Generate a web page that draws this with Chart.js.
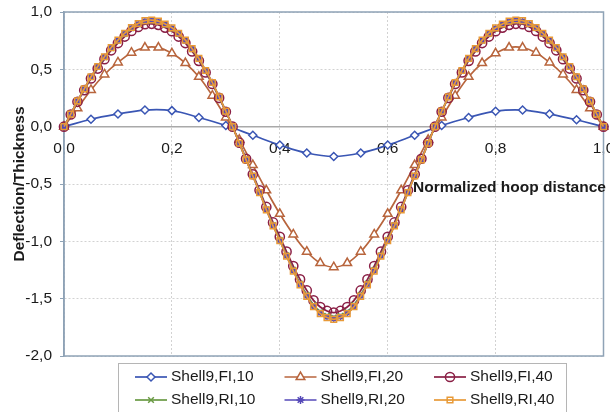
<!DOCTYPE html>
<html>
<head>
<meta charset="utf-8">
<title>Deflection/Thickness</title>
<script src="https://cdn.jsdelivr.net/npm/chart.js@4/dist/chart.umd.min.js"></script>
<style>
  html, body { margin: 0; padding: 0; background: #fff; }
  #wrap { width: 610px; height: 412px; }
</style>
</head>
<body>
<div id="wrap"><canvas id="chart" width="610" height="412"></canvas></div>
<script>
// x positions of the three sampling densities
const xFine = [0, 0.0125, 0.025, 0.0375, 0.05, 0.0625, 0.075, 0.0875, 0.1, 0.1125, 0.125, 0.1375, 0.15, 0.1625, 0.175, 0.1875, 0.2,
  0.2125, 0.225, 0.2375, 0.25, 0.2625, 0.275, 0.2875, 0.3, 0.3125, 0.325, 0.3375, 0.35, 0.3625, 0.375, 0.3875, 0.4,
  0.4125, 0.425, 0.4375, 0.45, 0.4625, 0.475, 0.4875, 0.5, 0.5125, 0.525, 0.5375, 0.55, 0.5625, 0.575, 0.5875, 0.6,
  0.6125, 0.625, 0.6375, 0.65, 0.6625, 0.675, 0.6875, 0.7, 0.7125, 0.725, 0.7375, 0.75, 0.7625, 0.775, 0.7875, 0.8,
  0.8125, 0.825, 0.8375, 0.85, 0.8625, 0.875, 0.8875, 0.9, 0.9125, 0.925, 0.9375, 0.95, 0.9625, 0.975, 0.9875, 1];
const xMid = [0, 0.025, 0.05, 0.075, 0.1, 0.125, 0.15, 0.175, 0.2, 0.225, 0.25, 0.275, 0.3, 0.325, 0.35, 0.375, 0.4,
  0.425, 0.45, 0.475, 0.5, 0.525, 0.55, 0.575, 0.6, 0.625, 0.65, 0.675, 0.7, 0.725, 0.75, 0.775, 0.8,
  0.825, 0.85, 0.875, 0.9, 0.925, 0.95, 0.975, 1];
const xCoarse = [0, 0.05, 0.1, 0.15, 0.2, 0.25, 0.3, 0.35, 0.4, 0.45, 0.5, 0.55, 0.6, 0.65, 0.7, 0.75, 0.8, 0.85, 0.9, 0.95, 1];

const seriesNames = ['Shell9,FI,10', 'Shell9,FI,20', 'Shell9,FI,40', 'Shell9,RI,10', 'Shell9,RI,20', 'Shell9,RI,40'];

const fi10 = [0, 0.065, 0.11, 0.145, 0.14, 0.08, 0.01, -0.075, -0.16, -0.23, -0.26, -0.23, -0.16, -0.075, 0.01, 0.08,
  0.135, 0.145, 0.11, 0.06, 0];

const fi20 = [0, 0.16, 0.32, 0.455, 0.56, 0.645, 0.69, 0.69, 0.64, 0.555, 0.435, 0.27, 0.08, -0.115, -0.335, -0.555,
  -0.76, -0.94, -1.09, -1.19, -1.225, -1.19, -1.09, -0.94, -0.76, -0.555, -0.335, -0.115, 0.08, 0.27, 0.435, 0.555,
  0.64, 0.69, 0.69, 0.645, 0.56, 0.455, 0.32, 0.16, 0];

const fi40 = [0, 0.106, 0.217, 0.318, 0.42, 0.507, 0.589, 0.666, 0.729, 0.786, 0.835, 0.869, 0.893, 0.897, 0.888, 0.864,
  0.832, 0.786, 0.729, 0.656, 0.574, 0.473, 0.372, 0.251, 0.13, 0, -0.14, -0.28, -0.415, -0.555, -0.7, -0.835, -0.96,
  -1.09, -1.216, -1.332, -1.428, -1.515, -1.573, -1.607, -1.621,
  -1.607, -1.573, -1.515, -1.428, -1.332, -1.216, -1.09, -0.96, -0.835, -0.7, -0.555, -0.415, -0.28, -0.14, 0, 0.13,
  0.251, 0.372, 0.473, 0.574, 0.656, 0.729, 0.786, 0.832, 0.864, 0.888, 0.897, 0.893, 0.869, 0.835, 0.786, 0.729,
  0.666, 0.589, 0.507, 0.42, 0.318, 0.217, 0.106, 0];

const ri10 = [0, 0.109, 0.223, 0.327, 0.431, 0.52, 0.604, 0.683, 0.747, 0.807, 0.856, 0.891, 0.916, 0.921, 0.911, 0.886,
  0.853, 0.807, 0.747, 0.673, 0.589, 0.485, 0.381, 0.257, 0.134, 0, -0.144, -0.287, -0.426, -0.569, -0.718, -0.856,
  -0.985, -1.119, -1.247, -1.366, -1.465, -1.554, -1.614, -1.648, -1.663,
  -1.648, -1.614, -1.554, -1.465, -1.366, -1.247, -1.119, -0.985, -0.856, -0.718, -0.569, -0.426, -0.287, -0.144, 0,
  0.134, 0.257, 0.381, 0.485, 0.589, 0.673, 0.747, 0.807, 0.853, 0.886, 0.911, 0.921, 0.916, 0.891, 0.856, 0.807,
  0.747, 0.683, 0.604, 0.52, 0.431, 0.327, 0.223, 0.109, 0];

const ri20 = [0, 0.11, 0.224, 0.329, 0.434, 0.524, 0.608, 0.688, 0.753, 0.813, 0.862, 0.897, 0.922, 0.927, 0.917, 0.892,
  0.859, 0.812, 0.752, 0.678, 0.593, 0.488, 0.384, 0.259, 0.135, 0, -0.145, -0.289, -0.429, -0.573, -0.723, -0.862,
  -0.992, -1.127, -1.256, -1.376, -1.476, -1.565, -1.625, -1.66, -1.675,
  -1.66, -1.625, -1.565, -1.476, -1.376, -1.256, -1.127, -0.992, -0.862, -0.723, -0.573, -0.429, -0.289, -0.145, 0,
  0.135, 0.259, 0.384, 0.488, 0.593, 0.678, 0.752, 0.812, 0.859, 0.892, 0.917, 0.927, 0.922, 0.897, 0.862, 0.813,
  0.753, 0.688, 0.608, 0.524, 0.434, 0.329, 0.224, 0.11, 0];

const ri40 = [0, 0.11, 0.225, 0.33, 0.435, 0.525, 0.61, 0.69, 0.755, 0.815, 0.865, 0.9, 0.925, 0.93, 0.92, 0.895,
  0.862, 0.815, 0.755, 0.68, 0.595, 0.49, 0.385, 0.26, 0.135, 0, -0.145, -0.29, -0.43, -0.575, -0.725, -0.865,
  -0.995, -1.13, -1.26, -1.38, -1.48, -1.57, -1.63, -1.665, -1.68,
  -1.665, -1.63, -1.57, -1.48, -1.38, -1.26, -1.13, -0.995, -0.865, -0.725, -0.575, -0.43, -0.29, -0.145, 0,
  0.135, 0.26, 0.385, 0.49, 0.595, 0.68, 0.755, 0.815, 0.862, 0.895, 0.92, 0.93, 0.925, 0.9, 0.865, 0.815,
  0.755, 0.69, 0.61, 0.525, 0.435, 0.33, 0.225, 0.11, 0];

const yTickStep = 0.5;
const xTickStep = 0.2;

const FONT = '"Liberation Sans", Arial, sans-serif';
const TEXT = '#1a1a1a';
const FRAME = '#8fa3b6';

const pairs = (xs, ys) => xs.map((x, i) => ({ x: x, y: ys[i] }));
const comma = (v) => Number(v).toFixed(1).replace('.', ',');

function series(label, xs, ys, color, style, radius, fill, order) {
    return {
        label: label,
        data: pairs(xs, ys),
        borderColor: color,
        borderWidth: 1.7,
        pointStyle: style,
        pointRadius: radius,
        pointBorderColor: color,
        pointBorderWidth: 1.5,
        pointBackgroundColor: fill,
        tension: 0.4,
        order: order,
        clip: 8
    };
}

// frame round the plot, axis caption and the boxed legend
const decorations = {
    id: 'decorations',
    beforeDatasetsDraw(chart) {
        const { ctx, chartArea: a } = chart;
        ctx.save();
        ctx.strokeStyle = FRAME;
        ctx.lineWidth = 1.5;
        ctx.strokeRect(a.left, a.top, a.right - a.left, a.bottom - a.top);
        ctx.restore();
    },
    afterDraw(chart) {
        const ctx = chart.ctx;
        ctx.save();
        ctx.fillStyle = TEXT;
        ctx.textAlign = 'left';
        ctx.textBaseline = 'middle';
        ctx.font = 'bold 15.5px ' + FONT;
        ctx.fillText('Normalized hoop distance', 413, 188);

        ctx.strokeStyle = '#b5b5b5';
        ctx.lineWidth = 1;
        ctx.strokeRect(118.5, 363.5, 448, 60);

        ctx.font = '15.5px ' + FONT;
        chart.data.datasets.forEach((ds, i) => {
            const x0 = 135 + (i % 3) * 149.5;
            const y = 377 + Math.floor(i / 3) * 23;
            ctx.strokeStyle = ds.borderColor;
            ctx.lineWidth = ds.borderWidth;
            ctx.beginPath();
            ctx.moveTo(x0, y);
            ctx.lineTo(x0 + 32, y);
            ctx.stroke();
            if (Chart.helpers && Chart.helpers.drawPoint) {
                ctx.fillStyle = ds.pointBackgroundColor;
                ctx.lineWidth = ds.pointBorderWidth;
                Chart.helpers.drawPoint(ctx, {
                    pointStyle: ds.pointStyle,
                    radius: Math.max(ds.pointRadius, 4),
                    rotation: 0,
                    borderWidth: ds.pointBorderWidth
                }, x0 + 16, y);
            }
            ctx.fillStyle = TEXT;
            ctx.fillText(ds.label, x0 + 36, y);
        });
        ctx.restore();
    }
};

new Chart(document.getElementById('chart'), {
    type: 'line',
    data: {
        datasets: [
            series(seriesNames[0], xCoarse, fi10, '#3a56b4', 'rectRot', 4, '#ffffff', 6),
            series(seriesNames[1], xMid, fi20, '#b8653d', 'triangle', 5, '#ffffff', 5),
            series(seriesNames[2], xFine, fi40, '#8a1f45', 'circle', 4.6, 'rgba(255,255,255,0)', 4),
            series(seriesNames[3], xFine, ri10, '#6a9a44', 'crossRot', 3.6, 'rgba(255,255,255,0)', 3),
            series(seriesNames[4], xFine, ri20, '#5548b8', 'star', 3.2, 'rgba(255,255,255,0)', 2),
            series(seriesNames[5], xFine, ri40, '#e89a38', 'rect', 4, 'rgba(255,255,255,0)', 1)
        ]
    },
    options: {
        responsive: false,
        animation: false,
        devicePixelRatio: 1,
        layout: { padding: { top: 12, right: 5, bottom: 56, left: 0 } },
        plugins: {
            legend: { display: false },
            tooltip: { enabled: false }
        },
        scales: {
            x: {
                type: 'linear',
                position: { y: 0 },
                min: 0,
                max: 1,
                ticks: {
                    stepSize: xTickStep,
                    padding: 13,
                    color: TEXT,
                    font: { family: FONT, size: 15.5 },
                    callback: comma
                },
                grid: { color: '#d2d2d2', lineWidth: 1, drawTicks: false },
                border: { color: '#a9a9a9', width: 1.5, dash: [2, 2] },
                afterFit(scale) {
                    scale.paddingLeft = 0;
                    scale.paddingRight = 0;
                }
            },
            y: {
                type: 'linear',
                min: -2,
                max: 1,
                ticks: {
                    stepSize: yTickStep,
                    padding: 8,
                    color: TEXT,
                    font: { family: FONT, size: 15.5 },
                    callback: comma
                },
                grid: { color: '#d2d2d2', lineWidth: 1, tickLength: 4, tickColor: FRAME, tickBorderDash: [] },
                border: { color: FRAME, width: 1.5, dash: [2, 2] },
                title: {
                    display: true,
                    text: 'Deflection/Thickness',
                    color: TEXT,
                    font: { family: FONT, size: 15.5, weight: 'bold' },
                    padding: { top: 10, bottom: 0 }
                },
                afterFit(scale) {
                    scale.width = 64;
                    scale.paddingTop = 0;
                    scale.paddingBottom = 0;
                }
            }
        }
    },
    plugins: [decorations]
});
</script>
</body>
</html>
